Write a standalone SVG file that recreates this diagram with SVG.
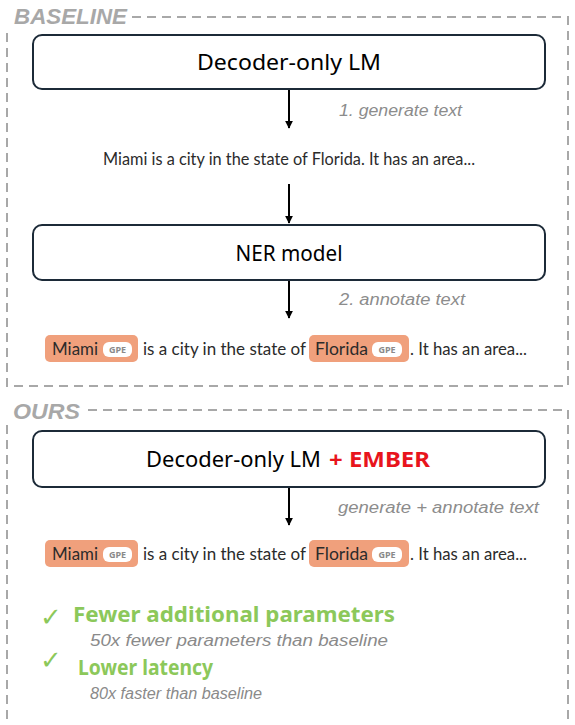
<svg xmlns="http://www.w3.org/2000/svg" width="575" height="725" viewBox="0 0 575 725">
<defs>
<marker id="ah" viewBox="0 0 10 10" refX="9" refY="5" markerWidth="8" markerHeight="8" markerUnits="userSpaceOnUse" orient="auto"><path d="M0,0 L10,5 L0,10 z" fill="#000"/></marker>
<style>
.frame{fill:none;stroke:#a8a8a8;stroke-width:2;stroke-dasharray:9,6}
.sec{font-family:"Liberation Sans",Arial,sans-serif;font-weight:bold;font-style:italic;font-size:22px;fill:#a8a8a8}
.box{fill:#fff;stroke:#1c2a38;stroke-width:2}
.title{font-family:"Noto Sans","Open Sans",sans-serif;font-size:22px;fill:#000}
.lbl{font-family:"Liberation Sans",Arial,sans-serif;font-style:italic;font-size:16px;fill:#8c8c8c}
.sent{font-family:Lato,"Noto Sans",sans-serif;font-size:17px;fill:#2b2b2b}
.pill{fill:#f0a07c}
.badge{fill:#fff}
.btxt{font-family:"Noto Sans",sans-serif;font-size:9px;font-weight:bold;fill:#8a8a8a}
.conn{stroke:#000;stroke-width:2;fill:none}
.good{font-family:"Noto Sans","Open Sans",sans-serif;font-weight:bold;font-size:21px;fill:#8cc85a}
.chk{font-family:"DejaVu Sans",sans-serif;font-weight:200;font-size:26px;fill:#8cc85a}
.sub{font-family:"Liberation Sans",Arial,sans-serif;font-style:italic;font-size:16px;fill:#8a8a8a}
</style>
</defs>
<rect width="575" height="725" fill="#fff"/>

<g id="baseline-frame">
<path class="frame" d="M132,17 H568 V386 H7 V30"/>
<text class="sec" x="14" y="24" textLength="113" lengthAdjust="spacingAndGlyphs">BASELINE</text>
</g>
<g id="ours-frame">
<path class="frame" d="M88,410 H568 V725"/>
<path class="frame" d="M7,425 V725"/>
<text class="sec" x="13" y="419" textLength="67" lengthAdjust="spacingAndGlyphs">OURS</text>
</g>

<g id="connectors">
<line class="conn" x1="289" y1="89" x2="289" y2="128" marker-end="url(#ah)"/>
<line class="conn" x1="289" y1="184" x2="289" y2="223" marker-end="url(#ah)"/>
<line class="conn" x1="289" y1="280" x2="289" y2="318" marker-end="url(#ah)"/>
<line class="conn" x1="289" y1="487" x2="289" y2="525" marker-end="url(#ah)"/>
</g>

<g id="lbl1"><text class="lbl" x="339" y="116" textLength="123" lengthAdjust="spacingAndGlyphs">1. generate text</text></g>
<g id="lbl2"><text class="lbl" x="339" y="305" textLength="126" lengthAdjust="spacingAndGlyphs">2. annotate text</text></g>
<g id="lbl3"><text class="lbl" x="338" y="513" textLength="201" lengthAdjust="spacingAndGlyphs">generate + annotate text</text></g>

<g id="decoder-lm">
<rect class="box" x="33" y="35" width="512" height="54" rx="9"/>
<text class="title" x="289" y="70" text-anchor="middle" textLength="184" lengthAdjust="spacingAndGlyphs">Decoder-only LM</text>
</g>

<g id="generated-text">
<text class="sent" x="103" y="165" textLength="372" lengthAdjust="spacingAndGlyphs">Miami is a city in the state of Florida. It has an area...</text>
</g>

<g id="ner-model">
<rect class="box" x="33" y="225" width="512" height="55" rx="9"/>
<text class="title" x="289" y="261" text-anchor="middle" textLength="107" lengthAdjust="spacingAndGlyphs">NER model</text>
</g>

<g id="annotated-1">
<rect class="pill" x="45" y="335" width="93" height="27" rx="5"/>
<rect class="badge" x="103" y="342" width="29" height="15" rx="6"/>
<text class="btxt" x="117.5" y="352.5" text-anchor="middle">GPE</text>
<text class="sent" x="52" y="355" textLength="46" lengthAdjust="spacingAndGlyphs">Miami</text>
<text class="sent" x="143" y="355" textLength="163" lengthAdjust="spacingAndGlyphs">is a city in the state of</text>
<rect class="pill" x="309" y="335" width="100" height="27" rx="5"/>
<rect class="badge" x="372" y="342" width="30" height="15" rx="6"/>
<text class="btxt" x="387" y="352.5" text-anchor="middle">GPE</text>
<text class="sent" x="315" y="355" textLength="53" lengthAdjust="spacingAndGlyphs">Florida</text>
<text class="sent" x="410" y="355" textLength="117" lengthAdjust="spacingAndGlyphs">. It has an area...</text>
</g>

<g id="decoder-lm-ember">
<rect class="box" x="33" y="431" width="512" height="56" rx="9"/>
<text class="title" x="146" y="467" textLength="175" lengthAdjust="spacingAndGlyphs">Decoder-only LM</text>
<text class="title" x="329" y="467" style="fill:#e8141c;font-weight:bold" textLength="101" lengthAdjust="spacingAndGlyphs">+ EMBER</text>
</g>

<g id="annotated-2">
<rect class="pill" x="45" y="540" width="93" height="27" rx="5"/>
<rect class="badge" x="103" y="547" width="29" height="15" rx="6"/>
<text class="btxt" x="117.5" y="557.5" text-anchor="middle">GPE</text>
<text class="sent" x="52" y="560" textLength="46" lengthAdjust="spacingAndGlyphs">Miami</text>
<text class="sent" x="143" y="560" textLength="163" lengthAdjust="spacingAndGlyphs">is a city in the state of</text>
<rect class="pill" x="309" y="540" width="100" height="27" rx="5"/>
<rect class="badge" x="372" y="547" width="30" height="15" rx="6"/>
<text class="btxt" x="387" y="557.5" text-anchor="middle">GPE</text>
<text class="sent" x="315" y="560" textLength="53" lengthAdjust="spacingAndGlyphs">Florida</text>
<text class="sent" x="410" y="560" textLength="117" lengthAdjust="spacingAndGlyphs">. It has an area...</text>
</g>

<g id="benefit-1">
<text class="chk" x="40" y="626">✓</text>
<text class="good" x="73" y="622" textLength="322" lengthAdjust="spacingAndGlyphs">Fewer additional parameters</text>
<text class="sub" x="90" y="646" textLength="298" lengthAdjust="spacingAndGlyphs">50x fewer parameters than baseline</text>
</g>
<g id="benefit-2">
<text class="chk" x="40" y="669">✓</text>
<text class="good" x="78" y="675" textLength="135" lengthAdjust="spacingAndGlyphs">Lower latency</text>
<text class="sub" x="90" y="699" textLength="172" lengthAdjust="spacingAndGlyphs">80x faster than baseline</text>
</g>
</svg>
